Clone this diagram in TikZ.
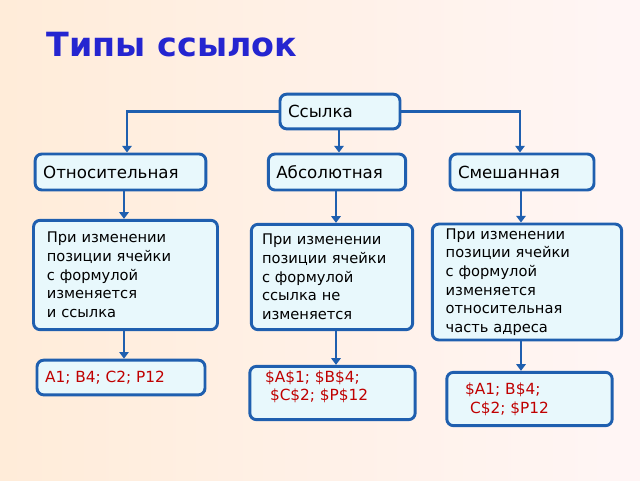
\documentclass[tikz,border=0pt]{standalone}
\usepackage{fontspec}
\setmainfont{DejaVu Sans}
\usetikzlibrary{arrows.meta}
\definecolor{boxline}{HTML}{1F5FAF}
\definecolor{boxfill}{HTML}{E8F8FC}
\definecolor{exred}{HTML}{C00000}
\definecolor{titleblue}{HTML}{2525D0}
\tikzset{
  box/.style={draw=boxline, line width=2.2pt, fill=boxfill, rounded corners=5pt, inner sep=0pt, font=\fontsize{12.5}{14}\selectfont},
  head/.style={box, align=left, text width=#1, inner xsep=6pt},
  desc/.style={box, align=left, text width=#1, font=\fontsize{11}{14}\selectfont},
  link/.style={draw=boxline, line width=2.2pt, -{Triangle[length=5pt,width=7pt]}}
}
\begin{document}
\begin{tikzpicture}[x=0.75pt,y=-0.75pt]
  \shade[top color=orange!12, bottom color=pink!20, left color=orange!15, right color=pink!15] (0,0) rectangle (640,480); % background
  \useasboundingbox (0,0) rectangle (640,480);
  \node[anchor=west, text=titleblue, font=\fontsize{25}{28}\selectfont\bfseries] (title) at (42,45) {Типы ссылок};

  \node[head=78pt, minimum height=26pt] (ref) at (340,111.5) {Ссылка};

  \node[head=116pt, minimum height=27pt] (rel) at (120.5,172) {Относительная};
  \node[head=91pt, minimum height=27pt] (abs) at (337,172) {Абсолютная};
  \node[head=96pt, minimum height=27pt] (mix) at (522,172) {Смешанная};

  \node[desc=118pt, minimum height=82pt, inner xsep=10pt] (drel) at (125.5,275) {При изменении\\ позиции ячейки\\ с формулой\\ изменяется\\ и ссылка};
  \node[desc=105pt, minimum height=79pt, inner xsep=8pt] (dabs) at (332,277) {При изменении\\ позиции ячейки\\ с формулой\\ ссылка не\\ изменяется};
  \node[desc=122pt, minimum height=87pt, inner xsep=10pt] (dmix) at (527,282) {При изменении\\ позиции ячейки\\ с формулой\\ изменяется\\ относительная\\ часть адреса};

  \node[box, align=left, text=exred, font=\fontsize{11.5}{14}\selectfont, minimum width=126pt, minimum height=26pt] (erel) at (121,377.5) {A1; B4; C2; P12\hspace*{24pt}};
  \node[box, align=left, text=exred, font=\fontsize{11.5}{14}\selectfont, minimum width=124pt, minimum height=40pt] (eabs) at (332.5,393) {\$A\$1; \$B\$4;\hspace*{30pt}\\ \ \$C\$2; \$P\$12\hspace*{20pt}\\[-3pt]};
  \node[box, align=left, text=exred, font=\fontsize{11.5}{14}\selectfont, minimum width=124pt, minimum height=40pt] (emix) at (529.5,399) {\$A1; B\$4;\hspace*{40pt}\\ \ C\$2; \$P12\hspace*{30pt}};

  % connectors
  \draw[link] (ref.south -| 339,0) -- (abs.north -| 339,0);
  \draw[link] (ref.west) -| (rel.north -| 127,0);
  \draw[link] (ref.east) -| (mix.north -| 520,0);
  \draw[link] (rel.south -| 124,0) -- (drel.north -| 124,0);
  \draw[link] (abs.south -| 336,0) -- (dabs.north -| 336,0);
  \draw[link] (mix.south -| 521,0) -- (dmix.north -| 521,0);
  \draw[link] (drel.south -| 124,0) -- (erel.north -| 124,0);
  \draw[link] (dabs.south -| 336,0) -- (eabs.north -| 336,0);
  \draw[link] (dmix.south -| 521,0) -- (emix.north -| 521,0);
\end{tikzpicture}
\end{document}
